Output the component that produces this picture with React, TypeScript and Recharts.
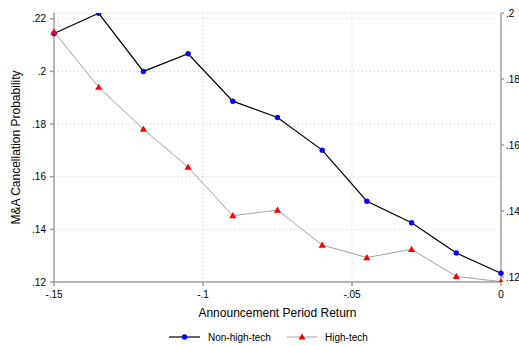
import { LineChart, Line, XAxis, YAxis, CartesianGrid, Legend } from 'recharts'

const returns = [-0.15, -0.135, -0.12, -0.105, -0.09, -0.075, -0.06, -0.045, -0.03, -0.015, 0]
const nonHighTech = [0.2144, 0.2221, 0.2, 0.2067, 0.1887, 0.1825, 0.1701, 0.1507, 0.1425, 0.131, 0.1233]
const highTech = [0.1943, 0.1775, 0.1648, 0.1533, 0.1386, 0.1403, 0.1297, 0.1259, 0.1284, 0.1202, 0.1186]

const xTicks = [-0.15, -0.1, -0.05, 0]
const leftTicks = [0.12, 0.14, 0.16, 0.18, 0.2, 0.22]
const rightTicks = [0.12, 0.14, 0.16, 0.18, 0.2]

const rows = returns.map((x, i) => ({ x, nonHigh: nonHighTech[i], high: highTech[i] }))

// stata style: drop the leading zero
const fmt = (v: number) => (v === 0 ? '0' : (v < 0 ? '-' : '') + String(Math.abs(v)).replace(/^0/, ''))

const AXIS = '#a0a0a0'
const tickStyle = { fill: '#000', fontSize: 10 }

function Triangle(props: any) {
  const { cx, cy, index } = props
  if (cx == null || cy == null) return null
  return (
    <polygon
      key={`tri-${index}`}
      points={`${cx},${cy - 3.6} ${cx - 3.6},${cy + 2.6} ${cx + 3.6},${cy + 2.6}`}
      fill="#ff0000"
    />
  )
}

function renderLegend() {
  return (
    <div style={{ position: 'relative', height: 34, fontSize: 10, color: '#000' }}>
      <svg width={519} height={34} style={{ position: 'absolute', left: 0, top: 0 }}>
        <line x1={169} x2={200} y1={25} y2={25} stroke="#000" strokeWidth={1.2} />
        <circle cx={184.5} cy={25} r={2.7} fill="#0000ff" />
        <text x={208} y={28.5} fontSize={10}>Non-high-tech</text>
        <line x1={287} x2={317} y1={25} y2={25} stroke={AXIS} strokeWidth={1} />
        <polygon points="302,21.4 298.4,27.6 305.6,27.6" fill="#ff0000" />
        <text x={325} y={28.5} fontSize={10}>High-tech</text>
      </svg>
    </div>
  )
}

export default function App() {
  return (
    <div
      style={{
        position: 'absolute',
        left: 0,
        top: 0,
        width: 519,
        height: 346,
        overflow: 'hidden',
        background: '#fff',
        fontFamily: '"Liberation Sans", Arial, sans-serif',
      }}
    >
      <LineChart width={530} height={346} data={rows} margin={{ top: 13, right: 0, bottom: 0, left: 0 }}>
        <CartesianGrid yAxisId="left" stroke="#cccccc" strokeDasharray="1 3" />
        <XAxis
          dataKey="x"
          type="number"
          domain={[-0.15, 0]}
          ticks={xTicks}
          tickFormatter={fmt}
          height={30}
          tickSize={4}
          tickMargin={5}
          stroke={AXIS}
          strokeWidth={1.5}
          tick={tickStyle}
          label={{ value: 'Announcement Period Return', position: 'insideBottom', offset: -5, fill: '#000', fontSize: 12 }}
        />
        <YAxis
          yAxisId="left"
          domain={[0.12, 0.2222]}
          ticks={leftTicks}
          tickFormatter={fmt}
          width={54}
          tickSize={4}
          tickMargin={4}
          stroke={AXIS}
          strokeWidth={1.5}
          tick={tickStyle}
          allowDataOverflow
          label={{
            value: 'M&A Cancellation Probability',
            angle: -90,
            position: 'insideLeft',
            offset: 16,
            fill: '#000',
            fontSize: 12,
            style: { textAnchor: 'middle' },
          }}
        />
        <YAxis
          yAxisId="right"
          orientation="right"
          domain={[0.1185, 0.2]}
          ticks={rightTicks}
          tickFormatter={fmt}
          width={29}
          tickSize={3}
          tickMargin={2}
          stroke={AXIS}
          strokeWidth={1.5}
          tick={tickStyle}
          allowDataOverflow
        />
        <Legend verticalAlign="bottom" content={renderLegend} />
        <Line
          yAxisId="left"
          dataKey="nonHigh"
          stroke="#000"
          strokeWidth={1.2}
          dot={{ r: 2.7, fill: '#0000ff', stroke: 'none' }}
          isAnimationActive={false}
        />
        <Line
          yAxisId="right"
          dataKey="high"
          stroke={AXIS}
          strokeWidth={1}
          dot={Triangle}
          isAnimationActive={false}
        />
      </LineChart>
    </div>
  )
}
